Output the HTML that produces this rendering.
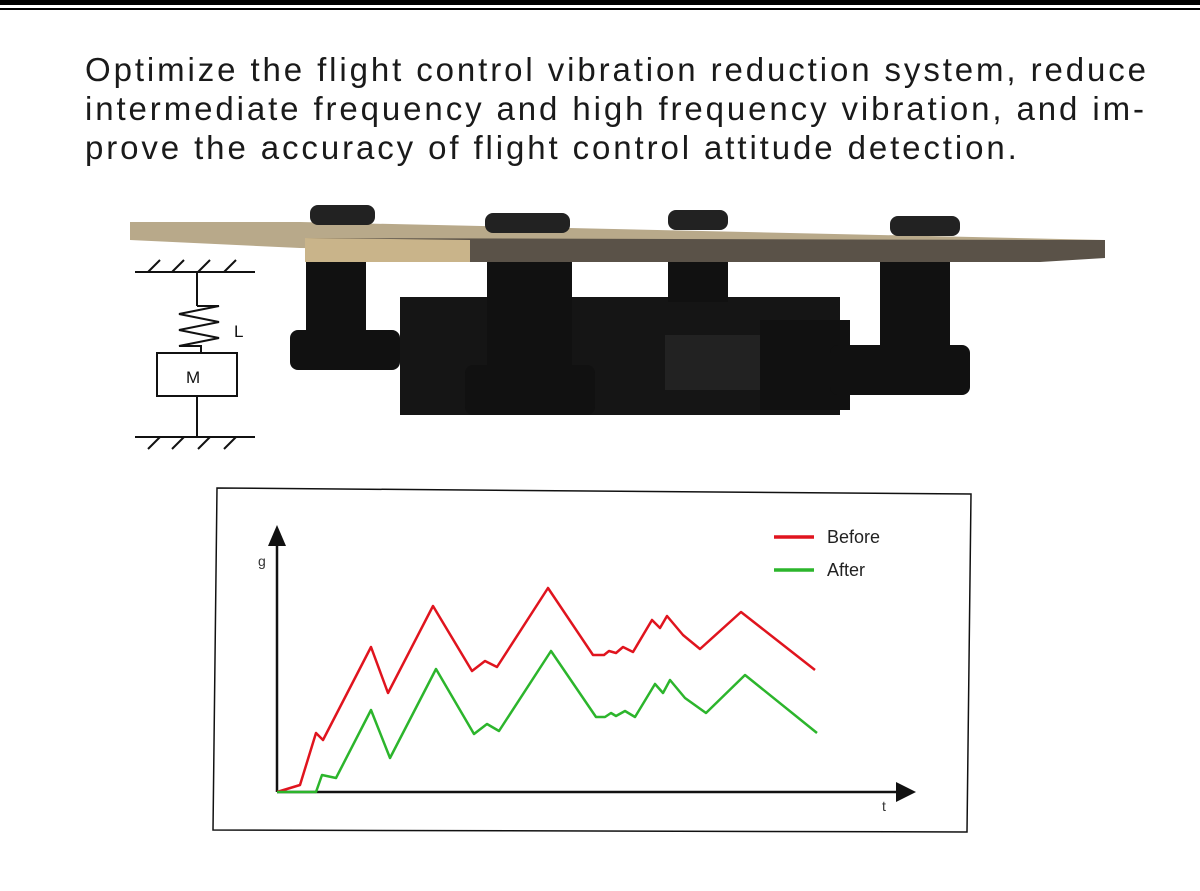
<!DOCTYPE html>
<html><head><style>
html,body{margin:0;padding:0;background:#fff;}
body{width:1200px;height:891px;position:relative;overflow:hidden;font-family:"Liberation Sans",sans-serif;}
.t{position:absolute;left:85px;top:50px;font-size:33px;line-height:39px;color:#1a1a1a;letter-spacing:2.9px;width:1110px;white-space:nowrap;}
</style></head><body>
<div style="position:absolute;left:0;top:0;width:1200px;height:5px;background:#000"></div>
<div style="position:absolute;left:0;top:8px;width:1200px;height:2px;background:#000"></div>
<div class="t">Optimize the flight control vibration reduction system, reduce<br>intermediate frequency and high frequency vibration, and im-<br>prove the accuracy of flight control attitude detection.</div>
<svg width="1200" height="891" style="position:absolute;left:0;top:0">
<g>
<path d="M130 222 L300 222 L1105 240 L1105 258 L300 248 L130 240Z" fill="#b8a98a"/>
<path d="M305 238 L1050 240 L1105 240 L1105 258 L1040 262 L305 262Z" fill="#5a5248"/>
<path d="M305 238 L470 240 L470 262 L305 262Z" fill="#c9b48a"/>
<rect x="310" y="205" width="65" height="20" rx="8" fill="#222"/>
<rect x="485" y="213" width="85" height="20" rx="8" fill="#222"/>
<rect x="668" y="210" width="60" height="20" rx="8" fill="#222"/>
<rect x="890" y="216" width="70" height="20" rx="8" fill="#222"/>
<rect x="400" y="297" width="440" height="118" fill="#151515"/>
<rect x="306" y="262" width="60" height="75" fill="#111"/>
<rect x="290" y="330" width="110" height="40" rx="8" fill="#111"/>
<rect x="487" y="262" width="85" height="110" fill="#111"/>
<rect x="465" y="365" width="130" height="50" rx="8" fill="#111"/>
<rect x="668" y="262" width="60" height="40" fill="#111"/>
<rect x="665" y="335" width="95" height="55" fill="#222"/>
<rect x="760" y="320" width="90" height="90" fill="#111"/>
<rect x="880" y="262" width="70" height="90" fill="#111"/>
<rect x="830" y="345" width="140" height="50" rx="8" fill="#111"/>
</g>
<g stroke="#111" stroke-width="2" fill="none">
<line x1="135" y1="272" x2="255" y2="272"/>
<path d="M148 272l12-12M172 272l12-12M198 272l12-12M224 272l12-12"/>
<line x1="197" y1="272" x2="197" y2="306"/>
<path d="M197 306h22l-40 8 40 8-40 8 40 8-40 8h22v8"/>
<rect x="157" y="353" width="80" height="43"/>
<line x1="197" y1="396" x2="197" y2="437"/>
<line x1="135" y1="437" x2="255" y2="437"/>
<path d="M148 449l12-12M172 449l12-12M198 449l12-12M224 449l12-12"/>
</g>
<text x="234" y="337" font-size="17" fill="#111" font-family="Liberation Sans">L</text>
<text x="186" y="383" font-size="17" fill="#111" font-family="Liberation Sans">M</text>
<path d="M217 488 L971 494 L967 832 L213 830Z" fill="#fff" stroke="#111" stroke-width="1.5"/>
<g stroke="#111" stroke-width="2.5" fill="none">
<line x1="277" y1="792" x2="277" y2="540"/>
<line x1="277" y1="792" x2="900" y2="792"/>
</g>
<path d="M277 525 L268 546 L286 546Z" fill="#111"/>
<path d="M916 792 L896 782 L896 802Z" fill="#111"/>
<text x="258" y="566" font-size="14" fill="#333">g</text>
<text x="882" y="811" font-size="14" fill="#333">t</text>
<line x1="774" y1="537" x2="814" y2="537" stroke="#e0141e" stroke-width="3.5"/>
<line x1="774" y1="570" x2="814" y2="570" stroke="#2cb52c" stroke-width="3.5"/>
<text x="827" y="543" font-size="18" fill="#222">Before</text>
<text x="827" y="576" font-size="18" fill="#222">After</text>
<polyline fill="none" stroke="#e0141e" stroke-width="2.5" stroke-linejoin="round" points="277,792 300,785 316,733 323,740 371,647 388,693 433,606 472,671 485,661 497,667 548,588 593,655 604,655 609,651 616,653 623,647 633,652 652,620 660,628 667,616 683,635 700,649 741,612 815,670"/>
<polyline fill="none" stroke="#2cb52c" stroke-width="2.5" stroke-linejoin="round" points="277,792 316,792 322,775 336,778 371,710 390,758 436,669 474,734 487,724 499,731 551,651 596,717 605,717 611,713 616,716 625,711 635,717 655,684 663,693 670,680 685,698 706,713 745,675 817,733"/>
</svg>
</body></html>
